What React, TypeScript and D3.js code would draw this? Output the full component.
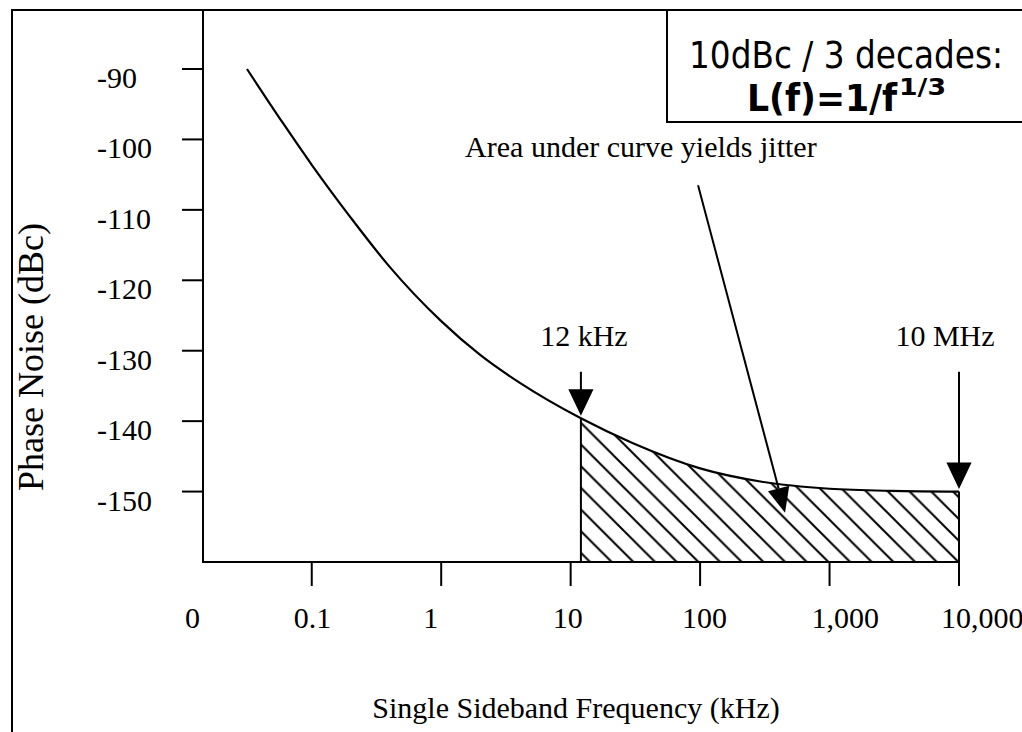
import React from 'react';
import * as d3 from 'd3';

// Single-sideband phase noise (dBc) against offset frequency (kHz)
const freqKHz = [0.0316, 0.06, 0.1, 0.2, 0.4, 1, 2, 4, 12, 30, 100, 300, 1000, 3000, 10000];
const phaseNoiseDbc = [-90, -97.7, -103.6, -111.1, -118.1, -125.8, -130.6, -134.5, -139.6, -143.1, -146.7, -148.6, -149.6, -149.9, -150.0];

// Axes
const yTicks = [-90, -100, -110, -120, -130, -140, -150];
const xTicks = [0.1, 1, 10, 100, 1000, 10000];
const xAxisStart = 0.01445;
const xLabelValues = [xAxisStart, 0.1, 1, 10, 100, 1000, 10000];
const xTickLabels = ['0', '0.1', '1', '10', '100', '1,000', '10,000'];
const yDomain = [-160, -90];

// Jitter integration band (kHz) and its labels
const bandLimits = [12, 10000];
const bandLabels = ['12 kHz', '10 MHz'];

// Callout arrow: from [kHz, dBc] to [kHz, dBc]
const calloutFrom = [96.4, -106.5];
const calloutTo = [453, -153.0];
const calloutText = 'Area under curve yields jitter';
const calloutTextAt = [1.53, -102.5];

const SERIF = '"Liberation Serif", "Times New Roman", serif';
const SANS = '"DejaVu Sans", Verdana, Tahoma, sans-serif';

export default function App() {
  const x = d3.scaleLog().domain([xAxisStart, 10000]).range([203, 959]);
  const y = d3.scaleLinear().domain(yDomain).range([562, 69]);
  const pts = freqKHz.map((f, i) => [f, phaseNoiseDbc[i]] as [number, number]);

  const line = d3
    .line<[number, number]>()
    .x((d) => x(d[0]))
    .y((d) => y(d[1]))
    .curve(d3.curveMonotoneX);
  const area = d3
    .area<[number, number]>()
    .x((d) => x(d[0]))
    .y0(y(yDomain[0]))
    .y1((d) => y(d[1]))
    .curve(d3.curveMonotoneX);

  const yBottom = y(yDomain[0]);
  const x0 = x(xAxisStart);
  const xEnd = x(10000);
  const valueAt = (f: number) => phaseNoiseDbc[freqKHz.indexOf(f)];

  const hs = 21.67;
  const arrowTopDb = -133.0;
  const labelDb = -129.3;

  const vArrow = (ax: number, tipY: number) => {
    const top = y(arrowTopDb);
    return `M${ax},${top}V${tipY - 20}M${ax - 11},${tipY - 23}L${ax + 11},${tipY - 23}L${ax},${tipY}Z`;
  };

  // Callout arrow geometry
  const cx0 = x(calloutFrom[0]);
  const cy0 = y(calloutFrom[1]);
  const cx1 = x(calloutTo[0]);
  const cy1 = y(calloutTo[1]);
  const len = Math.hypot(cx1 - cx0, cy1 - cy0);
  const ux = (cx1 - cx0) / len;
  const uy = (cy1 - cy0) / len;
  const hl = 25;
  const hw = 11;
  const bx = cx1 - ux * hl;
  const by = cy1 - uy * hl;

  return (
    <svg
      width={1022}
      height={732}
      style={{ position: 'absolute', left: 0, top: 0, background: '#fff' }}
    >
      <defs>
        <pattern id="hatch" patternUnits="userSpaceOnUse" width={hs} height={hs} x={6.4} y={0}>
          <path
            d={`M-2,-2L${hs + 2},${hs + 2}M${hs - 3},-3L${hs + 3},3M-3,${hs - 3}L3,${hs + 3}`}
            stroke="#000"
            strokeWidth={2}
          />
        </pattern>
        <clipPath id="band">
          <rect x={x(bandLimits[0])} y={0} width={x(bandLimits[1]) - x(bandLimits[0])} height={yBottom} />
        </clipPath>
      </defs>

      {/* outer frame */}
      <rect x={12} y={10} width={1040} height={760} fill="none" stroke="#000" strokeWidth={2} />

      {/* hatched integration area */}
      <path d={area(pts) || ''} fill="url(#hatch)" clipPath="url(#band)" />
      {bandLimits.map((f) => (
        <line key={f} x1={x(f)} x2={x(f)} y1={y(valueAt(f))} y2={yBottom} stroke="#000" strokeWidth={2} />
      ))}

      {/* axes */}
      <line x1={x0} x2={x0} y1={10} y2={yBottom} stroke="#000" strokeWidth={2} />
      <line x1={x0 - 1} x2={xEnd + 1} y1={yBottom} y2={yBottom} stroke="#000" strokeWidth={2} />
      {yTicks.map((v) => (
        <g key={v}>
          <line x1={182} x2={x0} y1={y(v)} y2={y(v)} stroke="#000" strokeWidth={2} />
          <text x={97} y={y(v) + 19} fontFamily={SERIF} fontSize={30} fill="#000">
            {v}
          </text>
        </g>
      ))}
      {xTicks.map((v) => (
        <line key={v} x1={x(v)} x2={x(v)} y1={yBottom} y2={586} stroke="#000" strokeWidth={2} />
      ))}
      {xLabelValues.map((v, i) => (
        <text key={i} x={x(v) - 18} y={628} fontFamily={SERIF} fontSize={30} fill="#000">
          {xTickLabels[i]}
        </text>
      ))}

      {/* phase noise curve */}
      <path d={line(pts) || ''} fill="none" stroke="#000" strokeWidth={2.2} />

      {/* band limit arrows */}
      {bandLimits.map((f, i) => (
        <g key={f}>
          <path d={vArrow(x(f), y(valueAt(f)) - 5)} stroke="#000" strokeWidth={2} fill="#000" />
          <text
            x={x(f) + (i === 0 ? 3 : -14)}
            y={y(labelDb)}
            textAnchor="middle"
            fontFamily={SERIF}
            fontSize={30}
            fill="#000"
          >
            {bandLabels[i]}
          </text>
        </g>
      ))}

      {/* callout */}
      <text x={x(calloutTextAt[0])} y={y(calloutTextAt[1])} fontFamily={SERIF} fontSize={30} fill="#000">
        {calloutText}
      </text>
      <line x1={cx0} y1={cy0} x2={bx} y2={by} stroke="#000" strokeWidth={2} />
      <path
        d={`M${bx - uy * hw},${by + ux * hw}L${bx + uy * hw},${by - ux * hw}L${cx1},${cy1}Z`}
        fill="#000"
      />

      {/* axis titles */}
      <text
        transform="translate(43,357) rotate(-90)"
        textAnchor="middle"
        fontFamily={SERIF}
        fontSize={36}
        fill="#000"
      >
        Phase Noise (dBc)
      </text>
      <text x={576} y={718} textAnchor="middle" fontFamily={SERIF} fontSize={30} fill="#000">
        Single Sideband Frequency (kHz)
      </text>

      {/* slope note */}
      <rect x={667} y={10} width={400} height={112} fill="#fff" stroke="#000" strokeWidth={2} />
      <text
        x={689}
        y={68}
        fontFamily={SANS}
        fontSize={37}
        textLength={314}
        lengthAdjust="spacingAndGlyphs"
        fill="#000"
      >
        10dBc / 3 decades:
      </text>
      <text
        x={747}
        y={111}
        fontFamily={SANS}
        fontWeight="bold"
        fontSize={37}
        textLength={150}
        lengthAdjust="spacingAndGlyphs"
        fill="#000"
      >
        L(f)=1/f
      </text>
      <text
        x={899}
        y={95}
        fontFamily={SANS}
        fontWeight="bold"
        fontSize={23}
        textLength={47}
        lengthAdjust="spacingAndGlyphs"
        fill="#000"
      >
        1/3
      </text>
    </svg>
  );
}
